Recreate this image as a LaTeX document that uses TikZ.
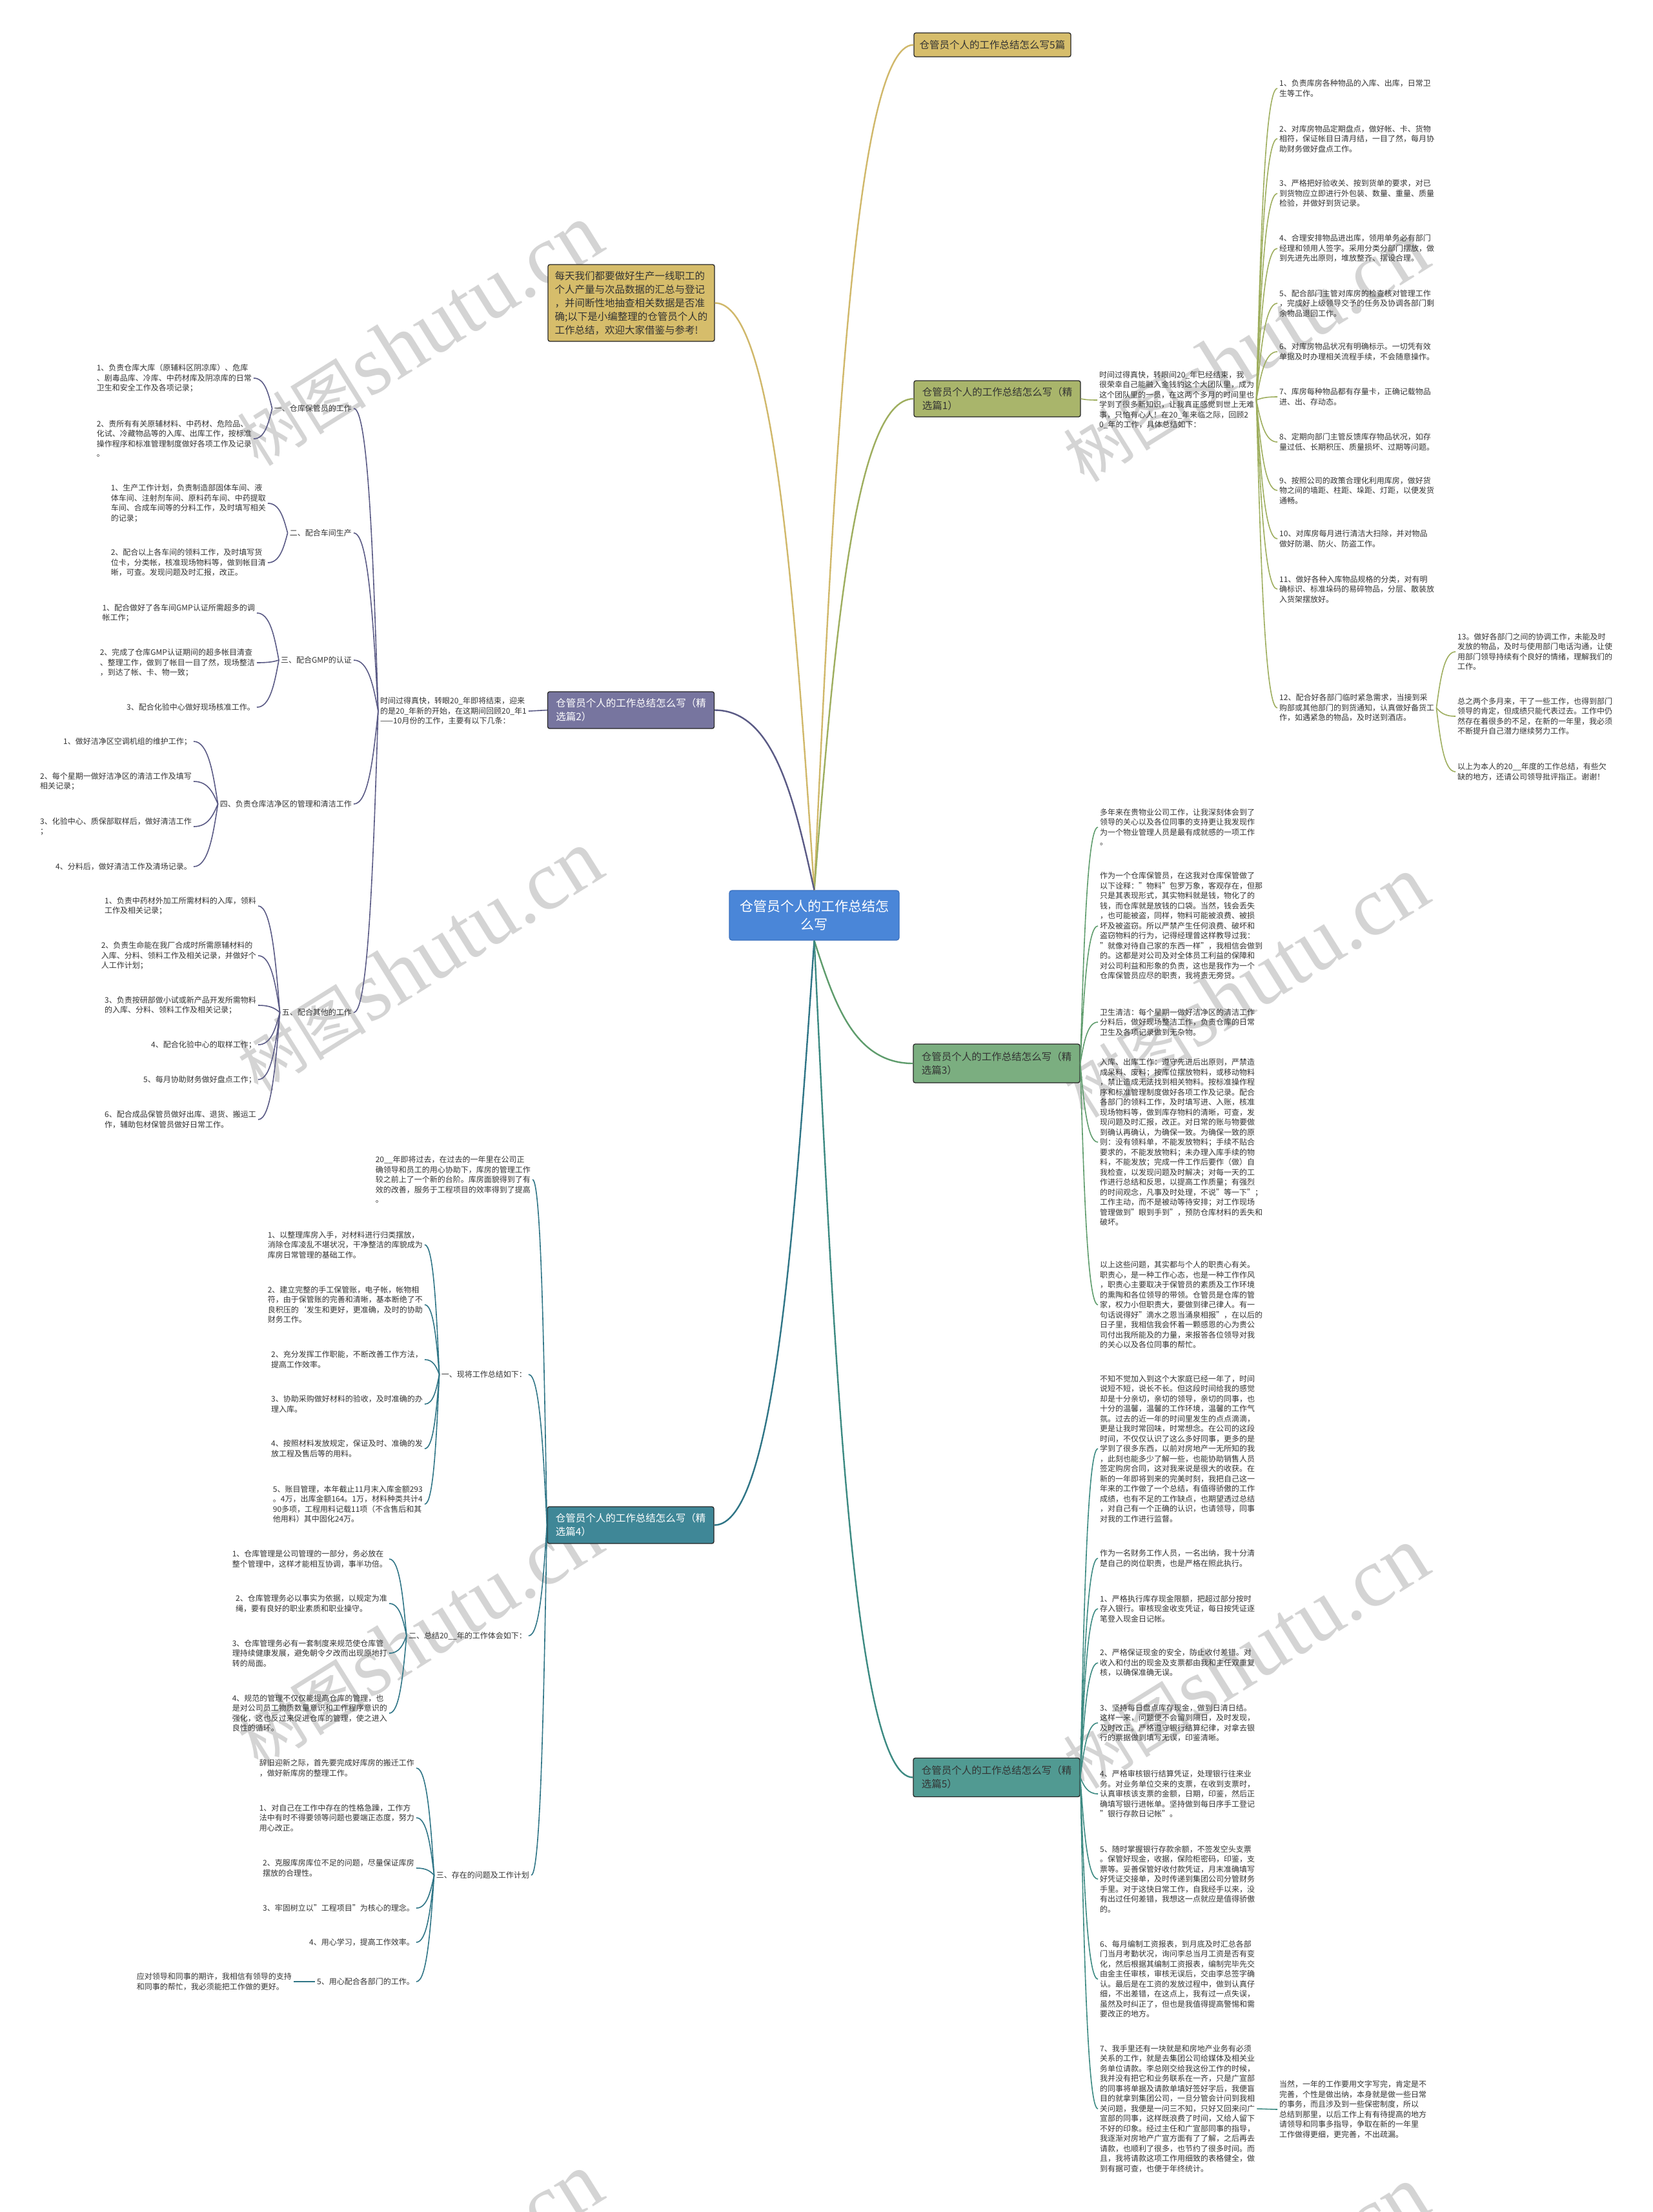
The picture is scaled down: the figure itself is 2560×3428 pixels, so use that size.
\documentclass[tikz,border=0pt]{standalone}
\usepackage{fontspec}
\setmainfont{Noto Sans CJK SC}
\newfontfamily\wmserif{Liberation Serif}
\usetikzlibrary{calc}
\definecolor{goldf}{HTML}{D6BD6B}
\definecolor{goldl}{HTML}{D0B86A}
\definecolor{olivef}{HTML}{A9B56B}
\definecolor{olivel}{HTML}{9EAE5E}
\definecolor{purf}{HTML}{77759F}
\definecolor{purl}{HTML}{5A5A85}
\definecolor{grnf}{HTML}{7BAE80}
\definecolor{grnl}{HTML}{5E9C6C}
\definecolor{tealf}{HTML}{3F8797}
\definecolor{teall}{HTML}{2F7586}
\definecolor{tealbf}{HTML}{519A92}
\definecolor{tealbl}{HTML}{3C8A82}
\definecolor{rootf}{HTML}{4A86D8}
\definecolor{rootd}{HTML}{3A70BE}
\definecolor{txt}{HTML}{333333}
\definecolor{wmc}{HTML}{D4D4D4}
\newcommand\mmlink[3]{\draw[#1] let \p1=(#2), \p2=(#3) in (\p1) .. controls ({\x1+0.2*(\x2-\x1)},{\y1+0.5*(\y2-\y1)}) and ({\x1+0.4*(\x2-\x1)},{\y2}) .. (\p2);}
\begin{document}
\begin{tikzpicture}[x=1pt,y=1pt,
  leaf/.style={align=left, inner xsep=3pt, inner ysep=1pt, text=txt, font=\fontsize{12}{15.5}\selectfont},
  R/.style={leaf, anchor=west},
  L/.style={leaf, anchor=east},
  tbox/.style={draw=black!85, line width=1.3pt, rounded corners=3pt, align=left, font=\fontsize{15.5}{21}\selectfont, inner sep=0pt, minimum width=258, text=txt},
  rootbox/.style={draw=rootd, line width=1.3pt, rounded corners=4pt, fill=rootf, text=white, align=center, font=\fontsize{21}{28}\selectfont, minimum width=263, minimum height=77, inner sep=0pt},
  wm/.style={text=wmc, rotate=32, inner sep=0pt},
  ln/.style={line width=1.6pt},
  lnb/.style={line width=2.4pt}]
\useasboundingbox (0,0) rectangle (2560,-3428);
\fill[white] (0,0) rectangle (2560,-3428);
% watermarks
\foreach \wx/\wy in {650/520,650/1490,650/2536,650/3540,1930/545,1930/1530,1930/2570,1930/3560}{
  \node[wm] at (\wx,-\wy) {{\fontsize{100}{100}\selectfont 树图} {\wmserif\fontsize{130}{130}\selectfont shutu.cn}};
}
% root and titles
\node[rootbox] (root) at (1261.5,-1418.5) {仓管员个人的工作总结怎\\么写};
\node[tbox, fill=goldf, minimum width=243, minimum height=37] (b0) at (1537.5,-69.5) {仓管员个人的工作总结怎么写5篇};
\node[tbox, fill=goldf, minimum height=119] (bi) at (978,-469.5) {每天我们都要做好生产一线职工的\\个人产量与次品数据的汇总与登记\\，并间断性地抽查相关数据是否准\\确;以下是小编整理的仓管员个人的\\工作总结，欢迎大家借鉴与参考!};
\node[tbox, fill=olivef, minimum height=56] (b1) at (1545,-618) {仓管员个人的工作总结怎么写（精\\选篇1）};
\node[tbox, fill=purf, text=white, minimum height=57] (b2) at (977.5,-1100.5) {仓管员个人的工作总结怎么写（精\\选篇2）};
\node[tbox, fill=grnf, minimum height=60] (b3) at (1544,-1648) {仓管员个人的工作总结怎么写（精\\选篇3）};
\node[tbox, fill=tealf, text=white, minimum height=57] (b4) at (977,-2363.5) {仓管员个人的工作总结怎么写（精\\选篇4）};
\node[tbox, fill=tealbf, minimum height=60] (b5) at (1544,-2754.5) {仓管员个人的工作总结怎么写（精\\选篇5）};
\mmlink{goldl,lnb}{root.north}{b0.west}
\mmlink{goldl,lnb}{root.north}{bi.east}
\mmlink{olivel,lnb}{root.north}{b1.west}
\mmlink{purl,lnb}{root.north}{b2.east}
\mmlink{grnl,lnb}{root.south}{b3.west}
\mmlink{teall,lnb}{root.south}{b4.east}
\mmlink{tealbl,lnb}{root.south}{b5.west}
% ---------- branch 1
\node[R] (a0) at (1700,-620) {时间过得真快，转眼间20\_年已经结束，我\\很荣幸自己能融入金钱豹这个大团队里，成为\\这个团队里的一员，在这两个多月的时间里也\\学到了很多新知识，让我真正感觉到世上无难\\事，只怕有心人！在20\_年来临之际，回顾2\\0\_年的工作，具体总结如下：};
\node[R] (a1) at (1979,-137) {1、负责库房各种物品的入库、出库，日常卫\\生等工作。};
\node[R] (a2) at (1979,-215) {2、对库房物品定期盘点，做好帐、卡、货物\\相符，保证帐目日清月结，一目了然，每月协\\助财务做好盘点工作。};
\node[R] (a3) at (1979,-300) {3、严格把好验收关、按到货单的要求，对已\\到货物应立即进行外包装、数量、重量、质量\\检验，并做好到货记录。};
\node[R] (a4) at (1979,-385) {4、合理安排物品进出库，领用单务必有部门\\经理和领用人签字。采用分类分部门摆放，做\\到先进先出原则，堆放整齐、摆设合理。};
\node[R] (a5) at (1979,-470) {5、配合部门主管对库房的检查核对管理工作\\，完成好上级领导交予的任务及协调各部门剩\\余物品退回工作。};
\node[R] (a6) at (1979,-545) {6、对库房物品状况有明确标示。一切凭有效\\单据及时办理相关流程手续，不会随意操作。};
\node[R] (a7) at (1979,-615) {7、库房每种物品都有存量卡，正确记载物品\\进、出、存动态。};
\node[R] (a8) at (1979,-685) {8、定期向部门主管反馈库存物品状况，如存\\量过低、长期积压、质量损坏、过期等问题。};
\node[R] (a9) at (1979,-760) {9、按照公司的政策合理化利用库房，做好货\\物之间的墙距、柱距、垛距、灯距，以便发货\\通畅。};
\node[R] (a10) at (1979,-835) {10、对库房每月进行清洁大扫除，并对物品\\做好防潮、防火、防盗工作。};
\node[R] (a11) at (1979,-913) {11、做好各种入库物品规格的分类，对有明\\确标识、标准垛码的易碎物品，分层、散装放\\入货架摆放好。};
\node[R] (a12) at (1979,-1097) {12、配合好各部门临时紧急需求，当接到采\\购部或其他部门的到货通知，认真做好备货工\\作，如遇紧急的物品，及时送到酒店。};
\node[R] (a13) at (2255,-1010) {13。做好各部门之间的协调工作，未能及时\\发放的物品，及时与使用部门电话沟通，让使\\用部门领导持续有个良好的情绪，理解我们的\\工作。};
\node[R] (a14) at (2255,-1110) {总之两个多月来，干了一些工作，也得到部门\\领导的肯定，但成绩只能代表过去。工作中仍\\然存在着很多的不足，在新的一年里，我必须\\不断提升自己潜力继续努力工作。};
\node[R] (a15) at (2255,-1196) {以上为本人的20\_\_年度的工作总结，有些欠\\缺的地方，还请公司领导批评指正。谢谢！};
\mmlink{olivel,ln}{b1.east}{a0.west}
\foreach \k in {a1,a2,a3,a4,a5,a6,a7,a8,a9,a10,a11,a12}{\mmlink{olivel,ln}{a0.east}{\k.west}}
\foreach \k in {a13,a14,a15}{\mmlink{olivel,ln}{a12.east}{\k.west}}
% ---------- branch 2
\node[L] (c0) at (819,-1102) {时间过得真快，转眼20\_年即将结束，迎来\\的是20\_年新的开始，在这期间回顾20\_年1\\——10月份的工作，主要有以下几条：};
\node[L] (s1) at (548,-633) {一、仓库保管员的工作};
\node[L] (s2) at (548,-826) {二、配合车间生产};
\node[L] (s3) at (548,-1023) {三、配合GMP的认证};
\node[L] (s4) at (548,-1246) {四、负责仓库洁净区的管理和清洁工作};
\node[L] (s5) at (548,-1569) {五、配合其他的工作};
\node[L] (s1a) at (393,-586) {1、负责仓库大库（原辅料区阴凉库）、危库\\、剧毒品库、冷库、中药材库及阴凉库的日常\\卫生和安全工作及各项记录；};
\node[L] (s1b) at (393,-680) {2、责所有有关原辅材料、中药材、危险品、\\化试、冷藏物品等的入库、出库工作，按标准\\操作程序和标准管理制度做好各项工作及记录\\。};
\node[L] (s2a) at (415,-780) {1、生产工作计划，负责制造部固体车间、液\\体车间、注射剂车间、原料药车间、中药提取\\车间、合成车间等的分料工作，及时填写相关\\的记录；};
\node[L] (s2b) at (415,-872) {2、配合以上各车间的领料工作，及时填写货\\位卡，分类帐，核准现场物料等，做到帐目清\\晰，可查。发现问题及时汇报，改正。};
\node[L] (s3a) at (398,-950) {1、配合做好了各车间GMP认证所需超多的调\\帐工作；};
\node[L] (s3b) at (398,-1027) {2、完成了仓库GMP认证期间的超多帐目清查\\、整理工作，做到了帐目一目了然，现场整洁\\，到达了帐、卡、物一致；};
\node[L] (s3c) at (398,-1096) {3、配合化验中心做好现场核准工作。};
\node[L] (s4a) at (300,-1149) {1、做好洁净区空调机组的维护工作；};
\node[L] (s4b) at (300,-1211) {2、每个星期一做好洁净区的清洁工作及填写\\相关记录；};
\node[L] (s4c) at (300,-1281) {3、化验中心、质保部取样后，做好清洁工作\\；};
\node[L] (s4d) at (300,-1343) {4、分料后，做好清洁工作及清场记录。};
\node[L] (s5a) at (400,-1404) {1、负责中药材外加工所需材料的入库，领料\\工作及相关记录；};
\node[L] (s5b) at (400,-1481) {2、负责生命能在我厂合成时所需原辅材料的\\入库、分料、领料工作及相关记录，并做好个\\人工作计划；};
\node[L] (s5c) at (400,-1558) {3、负责按研部做小试或新产品开发所需物料\\的入库、分料、领料工作及相关记录；};
\node[L] (s5d) at (400,-1619) {4、配合化验中心的取样工作；};
\node[L] (s5e) at (400,-1673) {5、每月协助财务做好盘点工作；};
\node[L] (s5f) at (400,-1735) {6、配合成品保管员做好出库、退货、搬运工\\作，辅助包材保管员做好日常工作。};
\draw[purl,ln] (b2.west) -- (c0.east);
\foreach \k in {s1,s2,s3,s4,s5}{\mmlink{purl,ln}{c0.west}{\k.east}}
\foreach \k in {s1a,s1b}{\mmlink{purl,ln}{s1.west}{\k.east}}
\foreach \k in {s2a,s2b}{\mmlink{purl,ln}{s2.west}{\k.east}}
\foreach \k in {s3a,s3b,s3c}{\mmlink{purl,ln}{s3.west}{\k.east}}
\foreach \k in {s4a,s4b,s4c,s4d}{\mmlink{purl,ln}{s4.west}{\k.east}}
\foreach \k in {s5a,s5b,s5c,s5d,s5e,s5f}{\mmlink{purl,ln}{s5.west}{\k.east}}
% ---------- branch 3
\node[R] (p1) at (1701,-1282) {多年来在贵物业公司工作，让我深刻体会到了\\领导的关心以及各位同事的支持更让我发现作\\为一个物业管理人员是最有成就感的一项工作\\。};
\node[R] (p2) at (1701,-1435) {作为一个仓库保管员，在这我对仓库保管做了\\以下诠释："物料"包罗万象，客观存在，但那\\只是其表现形式，其实物料就是钱，物化了的\\钱，而仓库就是放钱的口袋。当然，钱会丢失\\，也可能被盗，同样，物料可能被浪费、被损\\坏及被盗窃。所以严禁产生任何浪费、破坏和\\盗窃物料的行为，记得经理曾这样教导过我：\\"就像对待自己家的东西一样"，我相信会做到\\的。这都是对公司及对全体员工利益的保障和\\对公司利益和形象的负责，这也是我作为一个\\仓库保管员应尽的职责，我将责无旁贷。};
\node[R] (p3) at (1701,-1584) {卫生清洁：每个星期一做好洁净区的清洁工作\\分料后，做好现场整洁工作，负责仓库的日常\\卫生及各项记录做到无杂物。};
\node[R] (p4) at (1701,-1770) {入库、出库工作：遵守先进后出原则，严禁造\\成呆料、废料；按库位摆放物料，或移动物料\\，禁止造成无法找到相关物料。按标准操作程\\序和标准管理制度做好各项工作及记录。配合\\各部门的领料工作，及时填写进、入账，核准\\现场物料等，做到库存物料的清晰，可查，发\\现问题及时汇报，改正。对日常的账与物要做\\到确认再确认，为确保一致。为确保一致的原\\则：没有领料单，不能发放物料；手续不贴合\\要求的，不能发放物料；未办理入库手续的物\\料，不能发放；完成一件工作后要作（做）自\\我检查，以发现问题及时解决；对每一天的工\\作进行总结和反思，以提高工作质量；有强烈\\的时间观念，凡事及时处理，不说"等一下"；\\工作主动，而不是被动等待安排；对工作现场\\管理做到"眼到手到"，预防仓库材料的丢失和\\破坏。};
\node[R] (p5) at (1701,-2022) {以上这些问题，其实都与个人的职责心有关。\\职责心，是一种工作心态，也是一种工作作风\\，职责心主要取决于保管员的素质及工作环境\\的熏陶和各位领导的带领。仓管员是仓库的管\\家，权力小但职责大，要做到律己律人。有一\\句话说得好"滴水之恩当涌泉相报"，在以后的\\日子里，我相信我会怀着一颗感恩的心为贵公\\司付出我所能及的力量，来报答各位领导对我\\的关心以及各位同事的帮忙。};
\foreach \k in {p1,p2,p3,p4,p5}{\mmlink{grnl,ln}{b3.east}{\k.west}}
% ---------- branch 4
\node[L] (d0) at (825,-1828) {20\_\_年即将过去，在过去的一年里在公司正\\确领导和员工的用心协助下，库房的管理工作\\较之前上了一个新的台阶。库房面貌得到了有\\效的改善，服务于工程项目的效率得到了提高\\。};
\node[L] (t1) at (819,-2130) {一、现将工作总结如下：};
\node[L] (t2) at (819,-2535) {二、总结20\_\_年的工作体会如下：};
\node[L] (t3) at (823,-2906) {三、存在的问题及工作计划};
\node[L] (t1a) at (658,-1929) {1、以整理库房入手，对材料进行归类摆放，\\消除仓库凌乱不堪状况，干净整洁的库貌成为\\库房日常管理的基础工作。};
\node[L] (t1b) at (658,-2022) {2、建立完整的手工保管账，电子帐，帐物相\\符，由于保管账的完善和清晰，基本断绝了不\\良积压的{\char96}发生和更好，更准确，及时的协助\\财务工作。};
\node[L] (t1c) at (658,-2107) {2、充分发挥工作职能，不断改善工作方法，\\提高工作效率。};
\node[L] (t1d) at (658,-2176) {3、协助采购做好材料的验收，及时准确的办\\理入库。};
\node[L] (t1e) at (658,-2245) {4、按照材料发放规定，保证及时、准确的发\\放工程及售后等的用料。};
\node[L] (t1f) at (658,-2331) {5、账目管理，本年截止11月末入库金额293\\。4万，出库金额164。1万，材料种类共计4\\90多项，工程用料记载11项（不含售后和其\\他用料）其中固化24万。};
\node[L] (t2a) at (603,-2416) {1、仓库管理是公司管理的一部分，务必放在\\整个管理中，这样才能相互协调，事半功倍。};
\node[L] (t2b) at (603,-2485) {2、仓库管理务必以事实为依据，以规定为准\\绳，要有良好的职业素质和职业操守。};
\node[L] (t2c) at (603,-2562) {3、仓库管理务必有一套制度来规范使仓库管\\理持续健康发展，避免朝令夕改而出现原地打\\转的局面。};
\node[L] (t2d) at (603,-2655) {4、规范的管理不仅仅能提高仓库的管理，也\\是对公司员工物质数量意识和工作程序意识的\\强化，这也反过来促进仓库的管理，使之进入\\良性的循环。};
\node[L] (t3a) at (645,-2740) {辞旧迎新之际，首先要完成好库房的搬迁工作\\，做好新库房的整理工作。};
\node[L] (t3b) at (645,-2817) {1、对自己在工作中存在的性格急躁，工作方\\法中有时不得要领等问题也要端正态度，努力\\用心改正。};
\node[L] (t3c) at (645,-2895) {2、克服库房库位不足的问题，尽量保证库房\\摆放的合理性。};
\node[L] (t3d) at (645,-2957) {3、牢固树立以"工程项目"为核心的理念。};
\node[L] (t3e) at (645,-3010) {4、用心学习，提高工作效率。};
\node[L] (t3f) at (645,-3071) {5、用心配合各部门的工作。};
\node[L] (t3g) at (455,-3071) {应对领导和同事的期许，我相信有领导的支持\\和同事的帮忙，我必须能把工作做的更好。};
\foreach \k in {d0,t1,t2,t3}{\mmlink{teall,ln}{b4.west}{\k.east}}
\foreach \k in {t1a,t1b,t1c,t1d,t1e,t1f}{\mmlink{teall,ln}{t1.west}{\k.east}}
\foreach \k in {t2a,t2b,t2c,t2d}{\mmlink{teall,ln}{t2.west}{\k.east}}
\foreach \k in {t3a,t3b,t3c,t3d,t3e,t3f}{\mmlink{teall,ln}{t3.west}{\k.east}}
\draw[teall,ln] (t3f.west) -- (t3g.east);
% ---------- branch 5
\node[R] (q1) at (1701,-2245) {不知不觉加入到这个大家庭已经一年了，时间\\说短不短，说长不长。但这段时间给我的感觉\\却是十分亲切，亲切的领导，亲切的同事，也\\十分的温馨，温馨的工作环境，温馨的工作气\\氛。过去的近一年的时间里发生的点点滴滴，\\更是让我时常回味，时常想念。在公司的这段\\时间，不仅仅认识了这么多好同事，更多的是\\学到了很多东西，以前对房地产一无所知的我\\，此刻也能多少了解一些，也能协助销售人员\\签定购房合同，这对我来说是很大的收获。在\\新的一年即将到来的完美时刻，我把自己这一\\年来的工作做了一个总结，有值得骄傲的工作\\成绩，也有不足的工作缺点，也期望透过总结\\，对自己有一个正确的认识，也请领导，同事\\对我的工作进行监督。};
\node[R] (q2) at (1701,-2415) {作为一名财务工作人员，一名出纳，我十分清\\楚自己的岗位职责，也是严格在照此执行。};
\node[R] (q3) at (1701,-2493) {1、严格执行库存现金限额，把超过部分按时\\存入银行。审核现金收支凭证，每日按凭证逐\\笔登入现金日记帐。};
\node[R] (q4) at (1701,-2577) {2、严格保证现金的安全，防止收付差错。对\\收入和付出的现金及支票都由我和主任双重复\\核，以确保准确无误。};
\node[R] (q5) at (1701,-2670) {3、坚持每日盘点库存现金，做到日清日结。\\这样一来，问题便不会留到隔日，及时发现，\\及时改正。严格遵守银行结算纪律，对拿去银\\行的票据做到填写无误，印鉴清晰。};
\node[R] (q6) at (1701,-2780) {4、严格审核银行结算凭证，处理银行往来业\\务。对业务单位交来的支票，在收到支票时，\\认真审核该支票的金额，日期，印鉴，然后正\\确填写银行进帐单。坚持做到每日序手工登记\\"银行存款日记帐"。};
\node[R] (q7) at (1701,-2912) {5、随时掌握银行存款余额，不签发空头支票\\。保管好现金，收据，保险柜密码，印鉴，支\\票等。妥善保管好收付款凭证，月末准确填写\\好凭证交接单，及时传递到集团公司分管财务\\手里。对于这快日常工作，自我经手以来，没\\有出过任何差错，我想这一点就应是值得骄傲\\的。};
\node[R] (q8) at (1701,-3067) {6、每月编制工资报表，到月底及时汇总各部\\门当月考勤状况，询问李总当月工资是否有变\\化，然后根据其编制工资报表，编制完毕先交\\由金主任审核，审核无误后，交由李总签字确\\认。最后是在工资的发放过程中，做到认真仔\\细，不出差错，在这点上，我有过一点失误，\\虽然及时纠正了，但也是我值得提高警惕和需\\要改正的地方。};
\node[R] (q9) at (1701,-3268) {7、我手里还有一块就是和房地产业务有必须\\关系的工作，就是去集团公司给媒体及相关业\\务单位请款。李总刚交给我这份工作的时候，\\我并没有把它和业务联系在一齐，只是广宣部\\的同事将单据及请款单填好签好字后，我便盲\\目的就拿到集团公司，一旦分管会计问到我相\\关问题，我便是一问三不知，只好又回来问广\\宣部的同事，这样既浪费了时间，又给人留下\\不好的印象。经过主任和广宣部同事的指导，\\我逐渐对房地产广宣方面有了了解，之后再去\\请款，也顺利了很多，也节约了很多时间。而\\且，我将请款这项工作用细致的表格健全，做\\到有据可查，也便于年终统计。};
\node[R] (q10) at (1979,-3269) {当然，一年的工作要用文字写完，肯定是不\\完善，个性是做出纳，本身就是做一些日常\\的事务，而且涉及到一些保密制度，所以\\总结到那里，以后工作上有有待提高的地方\\请领导和同事多指导，争取在新的一年里\\工作做得更细，更完善，不出疏漏。};
\foreach \k in {q1,q2,q3,q4,q5,q6,q7,q8,q9}{\mmlink{tealbl,ln}{b5.east}{\k.west}}
\draw[tealbl,ln] (q9.east) -- (q10.west);
\end{tikzpicture}
\end{document}
